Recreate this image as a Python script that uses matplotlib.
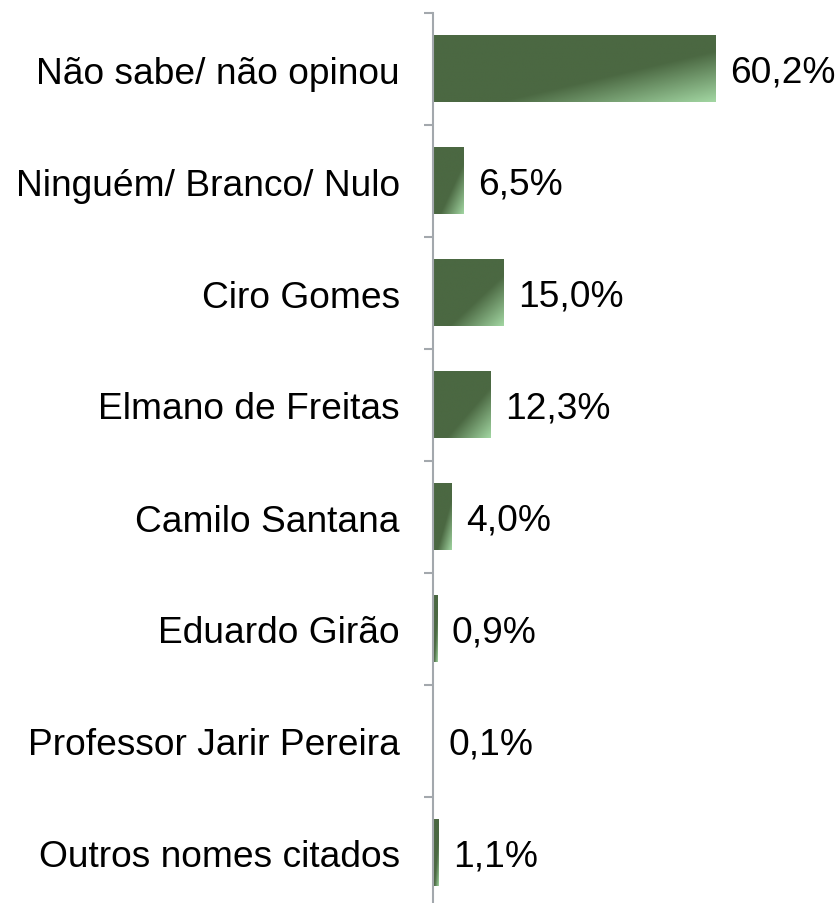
import matplotlib.pyplot as plt
import numpy as np
from matplotlib.colors import LinearSegmentedColormap

plt.rcParams['font.family'] = ['Liberation Sans', 'DejaVu Sans']

categories = ['Não sabe/ não opinou', 'Ninguém/ Branco/ Nulo', 'Ciro Gomes',
              'Elmano de Freitas', 'Camilo Santana', 'Eduardo Girão',
              'Professor Jarir Pereira', 'Outros nomes citados']
values = [60.2, 6.5, 15.0, 12.3, 4.0, 0.9, 0.1, 1.1]

dark = '#4B6842'
light = '#A2D6A2'
cmap = LinearSegmentedColormap.from_list('g', [(0, dark), (0.62, dark), (1, light)])

fig = plt.figure(figsize=(8.4, 9.04), dpi=100)
ax = fig.add_axes([433 / 840, -6 / 904, 375 / 840, 896 / 904])

bar_h = 0.59
ypos = np.arange(len(categories))

# gradiente diagonal dentro de cada barra
u = np.linspace(0, 1, 200)
v = np.linspace(0, 1, 100)
U, V = np.meshgrid(u, v)
grad = (U + V) / 2

for y, val in zip(ypos, values):
    ax.imshow(grad, cmap=cmap, vmin=0, vmax=1, aspect='auto', interpolation='bilinear',
              extent=(0, val, y + bar_h / 2, y - bar_h / 2), origin='upper', zorder=2)
    txt = f'{val:.1f}'.replace('.', ',') + '%'
    ax.annotate(txt, xy=(val, y), xytext=(10.5, -2.5), textcoords='offset points',
                ha='left', va='center', fontsize=26.7, color='black')

ax.set_xlim(0, 80)
ax.set_ylim(len(categories) - 0.5, -0.5)

for s in ['top', 'right', 'bottom']:
    ax.spines[s].set_visible(False)
ax.spines['left'].set_color('#A3A8AD')
ax.spines['left'].set_linewidth(1.5)
ax.spines['left'].set_zorder(3)

ax.set_xticks([])
ax.set_yticks(ypos)
ax.set_yticklabels(categories, fontsize=26.7)
ax.tick_params(axis='y', which='major', length=0, pad=23.8)
ax.set_yticks(np.arange(-0.5, len(categories)), minor=True)
ax.tick_params(axis='y', which='minor', length=6.5, width=1.5, color='#A3A8AD')

fig.savefig('out.png', dpi=100)
